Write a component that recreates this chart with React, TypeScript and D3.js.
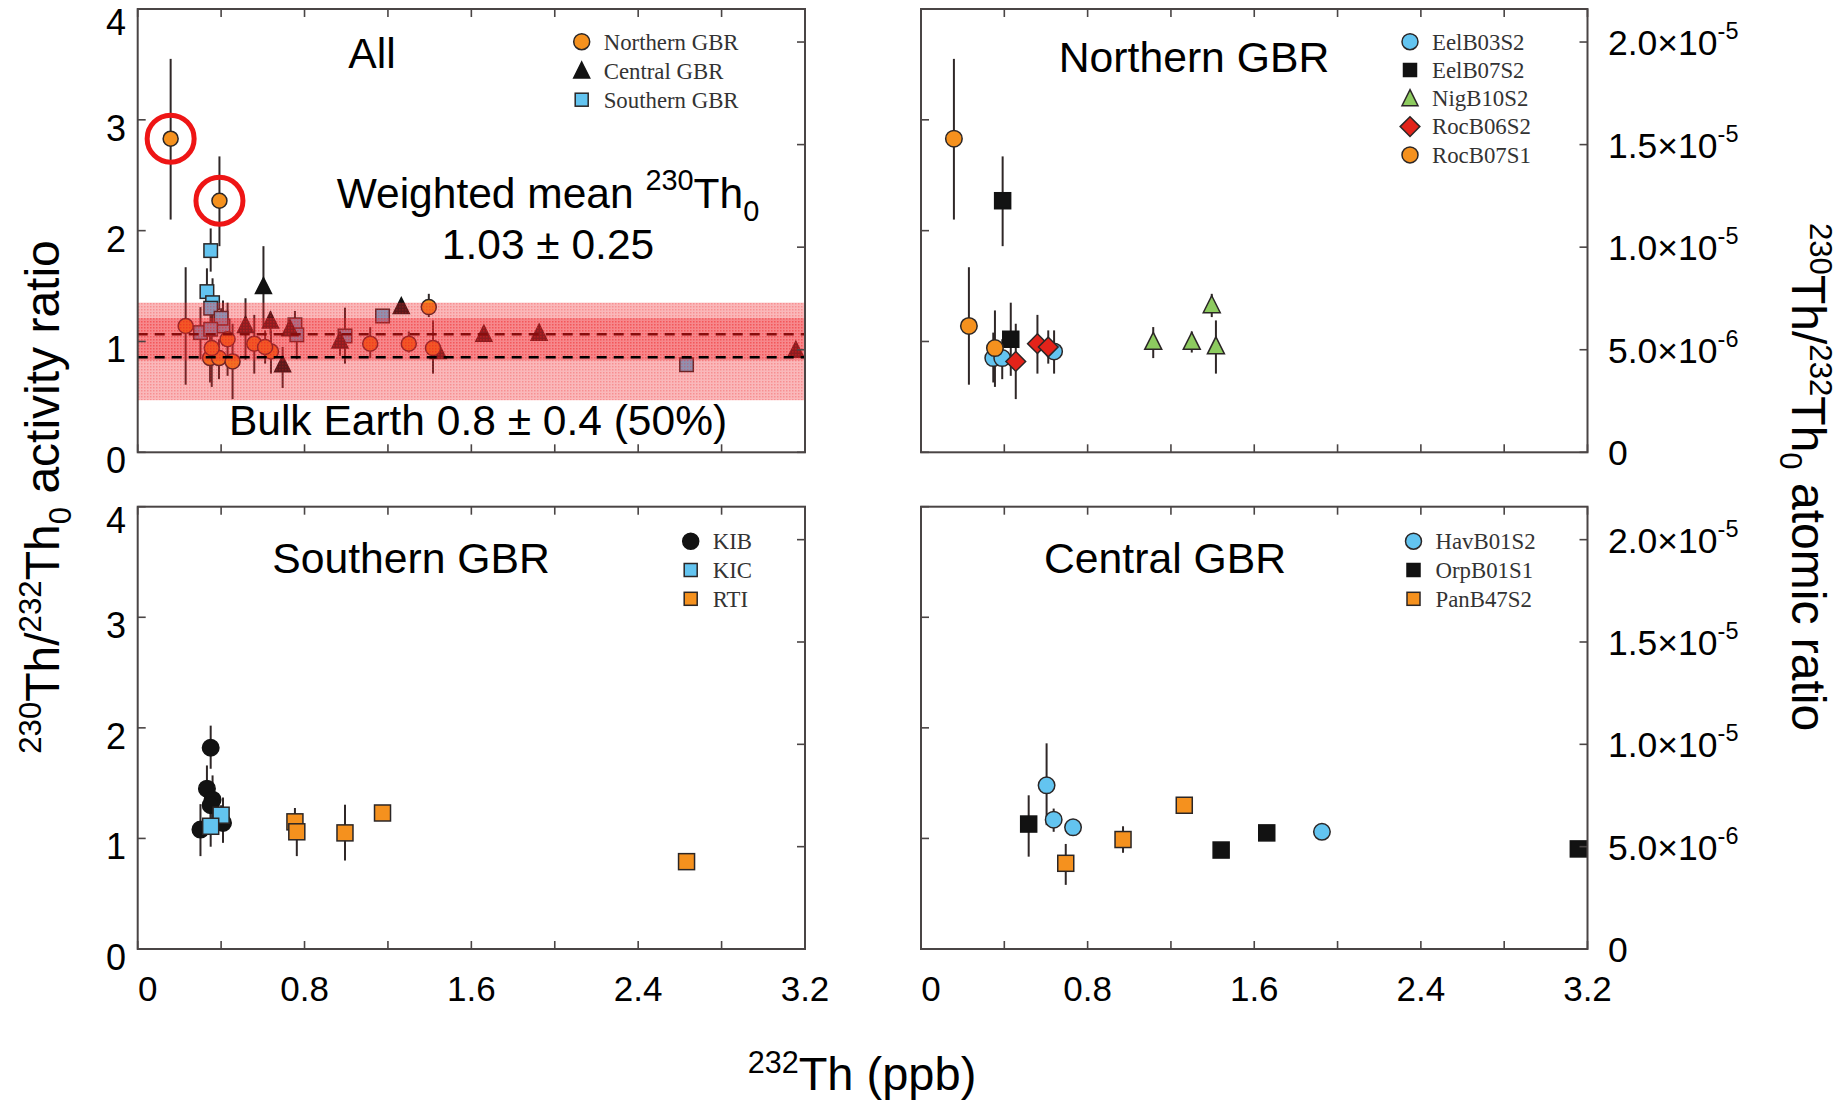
import React from 'react';
import * as d3 from 'd3';

// ---------------- data ----------------
type Pt = { x: number; y: number; lo?: number; hi?: number };

const X_TICK_VALUES = [0, 0.4, 0.8, 1.2, 1.6, 2.0, 2.4, 2.8, 3.2];
const X_TICK_LABELS = [0, 0.8, 1.6, 2.4, 3.2];
const Y_TICK_VALUES = [0, 1, 2, 3, 4];
const ATOMIC_TICK_VALUES = [0, 5e-6, 1e-5, 1.5e-5, 2e-5];
const ATOMIC_MANTISSA = ['0', '5.0×10', '1.0×10', '1.5×10', '2.0×10'];
const ATOMIC_EXPONENT = ['', '-6', '-5', '-5', '-5'];
const LAMBDA_232 = 4.9475e-11;
const LAMBDA_230 = 9.1577e-6;

// Northern GBR
const eelB03S2: Pt[] = [
  { x: 0.347, y: 0.85, lo: 0.63, hi: 1.08 },
  { x: 0.39, y: 0.85, lo: 0.66, hi: 1.02 },
  { x: 0.639, y: 0.91, lo: 0.71, hi: 1.1 },
];
const eelB07S2: Pt[] = [
  { x: 0.392, y: 2.27, lo: 1.86, hi: 2.67 },
  { x: 0.431, y: 1.02, lo: 0.69, hi: 1.35 },
];
const nigB10S2: Pt[] = [
  { x: 1.115, y: 0.98, lo: 0.85, hi: 1.13 },
  { x: 1.3, y: 0.98, lo: 0.9, hi: 1.09 },
  { x: 1.396, y: 1.31, lo: 1.22, hi: 1.43 },
  { x: 1.416, y: 0.94, lo: 0.71, hi: 1.19 },
];
const rocB06S2: Pt[] = [
  { x: 0.455, y: 0.82, lo: 0.48, hi: 1.16 },
  { x: 0.559, y: 0.98, lo: 0.71, hi: 1.24 },
  { x: 0.611, y: 0.95, lo: 0.8, hi: 1.1 },
];
const rocB07S1: Pt[] = [
  { x: 0.158, y: 2.83, lo: 2.1, hi: 3.55 },
  { x: 0.23, y: 1.14, lo: 0.61, hi: 1.67 },
  { x: 0.355, y: 0.94, lo: 0.59, hi: 1.28 },
];

// Central GBR
const havB01S2: Pt[] = [
  { x: 0.603, y: 1.48, lo: 1.12, hi: 1.86 },
  { x: 0.637, y: 1.17, lo: 1.06, hi: 1.27 },
  { x: 0.73, y: 1.1, lo: 1.04, hi: 1.15 },
  { x: 1.925, y: 1.06, lo: 1.04, hi: 1.08 },
];
const orpB01S1: Pt[] = [
  { x: 0.517, y: 1.13, lo: 0.835, hi: 1.39 },
  { x: 1.441, y: 0.895, lo: 0.86, hi: 0.93 },
  { x: 1.66, y: 1.05, lo: 1.03, hi: 1.07 },
  { x: 3.156, y: 0.905, lo: 0.87, hi: 0.94 },
];
const panB47S2: Pt[] = [
  { x: 0.695, y: 0.775, lo: 0.58, hi: 0.95 },
  { x: 0.97, y: 0.99, lo: 0.87, hi: 1.11 },
  { x: 1.264, y: 1.3 },
];

// Southern GBR
const kib: Pt[] = [
  { x: 0.35, y: 1.82, lo: 1.63, hi: 2.02 },
  { x: 0.332, y: 1.45, lo: 1.25, hi: 1.66 },
  { x: 0.359, y: 1.35, lo: 1.15, hi: 1.57 },
  { x: 0.35, y: 1.3, lo: 1.1, hi: 1.45 },
  { x: 0.301, y: 1.08, lo: 0.84, hi: 1.31 },
  { x: 0.409, y: 1.14, lo: 0.96, hi: 1.37 },
];
const kic: Pt[] = [
  { x: 0.4, y: 1.21, lo: 1.1, hi: 1.3 },
  { x: 0.35, y: 1.11, lo: 0.925, hi: 1.25 },
];
const rti: Pt[] = [
  { x: 0.754, y: 1.15, lo: 1.05, hi: 1.275 },
  { x: 0.763, y: 1.06, lo: 0.84, hi: 1.2 },
  { x: 0.994, y: 1.05, lo: 0.8, hi: 1.305 },
  { x: 1.174, y: 1.23 },
  { x: 2.632, y: 0.79 },
];

// reference bands / lines in the "All" panel
const BAND_OUTER = [0.47, 1.35];
const BAND_INNER = [0.83, 1.21];
const MEAN_LINE = 1.065;
const BULK_LINE = 0.857;
const HIGHLIGHTS = [rocB07S1[0], eelB07S2[0]];

// ---------------- styles ----------------
const ORANGE = '#F5911E';
const BLUE = '#63C4F0';
const BLACK = '#121212';
const GREEN = '#8DCB5F';
const RED = '#E3231A';
const FRAME = '#4a4545';
const SANS = '"Liberation Sans", Arial, sans-serif';
const SERIF = '"Liberation Serif", "Times New Roman", serif';

type Shape = 'circle' | 'square' | 'triangle' | 'diamond';
type Series = { name: string; shape: Shape; fill: string; data: Pt[] };

const NORTHERN: Series[] = [
  { name: 'EelB03S2', shape: 'circle', fill: BLUE, data: eelB03S2 },
  { name: 'EelB07S2', shape: 'square', fill: BLACK, data: eelB07S2 },
  { name: 'NigB10S2', shape: 'triangle', fill: GREEN, data: nigB10S2 },
  { name: 'RocB06S2', shape: 'diamond', fill: RED, data: rocB06S2 },
  { name: 'RocB07S1', shape: 'circle', fill: ORANGE, data: rocB07S1 },
];
const CENTRAL: Series[] = [
  { name: 'HavB01S2', shape: 'circle', fill: BLUE, data: havB01S2 },
  { name: 'OrpB01S1', shape: 'square', fill: BLACK, data: orpB01S1 },
  { name: 'PanB47S2', shape: 'square', fill: ORANGE, data: panB47S2 },
];
const SOUTHERN: Series[] = [
  { name: 'KIB', shape: 'circle', fill: BLACK, data: kib },
  { name: 'KIC', shape: 'square', fill: BLUE, data: kic },
  { name: 'RTI', shape: 'square', fill: ORANGE, data: rti },
];
const ALL: Series[] = [
  { name: 'Southern GBR', shape: 'square', fill: BLUE, data: SOUTHERN.flatMap((s) => s.data) },
  { name: 'Central GBR', shape: 'triangle', fill: BLACK, data: CENTRAL.flatMap((s) => s.data) },
  { name: 'Northern GBR', shape: 'circle', fill: ORANGE, data: NORTHERN.flatMap((s) => s.data) },
];
const ALL_LEGEND: Series[] = [ALL[2], ALL[1], ALL[0]];

type Box = { x0: number; x1: number; y0: number; y1: number };
const TL: Box = { x0: 137.7, x1: 805, y0: 9, y1: 452.3 };
const TR: Box = { x0: 921, x1: 1587.5, y0: 9, y1: 452.3 };
const BL: Box = { x0: 137.7, x1: 805, y0: 506.7, y1: 949 };
const BR: Box = { x0: 921, x1: 1587.5, y0: 506.7, y1: 949 };

type Part = { t: string; sup?: boolean; sub?: boolean };
function rich(parts: Part[], fs: number, scale = 0.66, rise = 0.4, drop = 0.24) {
  let cur = 0;
  return parts.map((p, i) => {
    const target = p.sup ? -rise * fs : p.sub ? drop * fs : 0;
    const dy = target - cur;
    cur = target;
    return (
      <tspan key={i} dy={dy} fontSize={p.sup || p.sub ? fs * scale : fs}>
        {p.t}
      </tspan>
    );
  });
}

function Marker({ shape, fill, cx, cy, s }: { shape: Shape; fill: string; cx: number; cy: number; s: number }) {
  const stroke = fill === BLACK ? BLACK : '#2b2626';
  const common = { fill, stroke, strokeWidth: 1.5 };
  if (shape === 'circle') return <circle cx={cx} cy={cy} r={s / 2} {...common} />;
  if (shape === 'square') return <rect x={cx - s / 2} y={cy - s / 2} width={s} height={s} {...common} />;
  if (shape === 'triangle') {
    const w = s, h = s;
    const p = `M${cx},${cy - (2 * h) / 3}L${cx + w / 2},${cy + h / 3}L${cx - w / 2},${cy + h / 3}Z`;
    return <path d={p} {...common} />;
  }
  const r = s * 0.58;
  return <path d={`M${cx},${cy - r}L${cx + r},${cy}L${cx},${cy + r}L${cx - r},${cy}Z`} {...common} />;
}

function sizeFor(shape: Shape, small: boolean) {
  if (shape === 'circle') return small ? 15 : 16.5;
  if (shape === 'square') return small ? 13.5 : 16;
  if (shape === 'triangle') return small ? 16 : 17;
  return 17;
}

function Panel({
  box, series, legend, legendDx, legendDy, legendStep, title, titleX, titleBase, small, extra,
}: {
  box: Box; series: Series[]; legend: Series[]; legendDx: number; legendDy: number; legendStep: number;
  title: string; titleX: number; titleBase: number; small?: boolean; extra?: (x: any, y: any) => React.ReactNode;
}) {
  const x = d3.scaleLinear().domain([0, 3.2]).range([box.x0, box.x1]);
  const y = d3.scaleLinear().domain([0, 4]).range([box.y1, box.y0]);
  const ya = d3.scaleLinear().domain([0, (4 * LAMBDA_232) / LAMBDA_230]).range([box.y1, box.y0]);
  const tl = 8;
  return (
    <g>
      {series.map((s) =>
        s.data.map((d, i) =>
          d.lo !== undefined && d.hi !== undefined ? (
            <line key={s.name + 'e' + i} x1={x(d.x)} x2={x(d.x)} y1={y(d.lo)} y2={y(d.hi)} stroke="#2f2727" strokeWidth={2} />
          ) : null,
        ),
      )}
      {series.map((s) =>
        s.data.map((d, i) => (
          <Marker key={s.name + 'm' + i} shape={s.shape} fill={s.fill} cx={x(d.x)} cy={y(d.y)} s={sizeFor(s.shape, !!small)} />
        )),
      )}
      {extra ? extra(x, y) : null}
      {/* ticks */}
      {X_TICK_VALUES.map((v) => (
        <g key={'xt' + v}>
          <line x1={x(v)} x2={x(v)} y1={box.y1} y2={box.y1 - tl} stroke={FRAME} strokeWidth={1.6} />
          <line x1={x(v)} x2={x(v)} y1={box.y0} y2={box.y0 + tl} stroke={FRAME} strokeWidth={1.6} />
        </g>
      ))}
      {Y_TICK_VALUES.map((v) => (
        <line key={'yt' + v} x1={box.x0} x2={box.x0 + tl} y1={y(v)} y2={y(v)} stroke={FRAME} strokeWidth={1.6} />
      ))}
      {ATOMIC_TICK_VALUES.map((v) => (
        <line key={'at' + v} x1={box.x1} x2={box.x1 - tl} y1={ya(v)} y2={ya(v)} stroke={FRAME} strokeWidth={1.6} />
      ))}
      <rect x={box.x0} y={box.y0} width={box.x1 - box.x0} height={box.y1 - box.y0} fill="none" stroke={FRAME} strokeWidth={2} />
      {/* legend */}
      {legend.map((s, i) => {
        const cy = box.y0 + legendDy + i * legendStep;
        const mx = box.x0 + legendDx;
        return (
          <g key={'lg' + s.name}>
            <Marker shape={s.shape} fill={s.fill} cx={mx} cy={cy + (s.shape === 'triangle' ? 2 : 0)} s={s.shape === 'square' ? 13 : s.shape === 'diamond' ? 17 : 16} />
            <text x={mx + 22} y={cy + 7.8} fontFamily={SERIF} fontSize={22.8} fill="#333">
              {s.name}
            </text>
          </g>
        );
      })}
      <text x={titleX} y={titleBase} textAnchor="middle" fontFamily={SANS} fontSize={42.7} fill="#000">
        {title}
      </text>
    </g>
  );
}

export default function App() {
  const W = 1845, H = 1103;
  const xl = d3.scaleLinear().domain([0, 3.2]).range([BL.x0, BL.x1]);
  const xr = d3.scaleLinear().domain([0, 3.2]).range([BR.x0, BR.x1]);
  const yTop = d3.scaleLinear().domain([0, 4]).range([TL.y1, TL.y0]);
  const yBot = d3.scaleLinear().domain([0, 4]).range([BL.y1, BL.y0]);
  const yaTop = d3.scaleLinear().domain([0, (4 * LAMBDA_232) / LAMBDA_230]).range([TR.y1, TR.y0]);
  const yaBot = d3.scaleLinear().domain([0, (4 * LAMBDA_232) / LAMBDA_230]).range([BR.y1, BR.y0]);

  const bandExtra = (x: any, y: any) => (
    <g>
      <rect x={TL.x0} width={TL.x1 - TL.x0} y={y(BAND_OUTER[1])} height={y(BAND_OUTER[0]) - y(BAND_OUTER[1])} fill="url(#dots)" />
      <rect x={TL.x0} width={TL.x1 - TL.x0} y={y(BAND_INNER[1])} height={y(BAND_INNER[0]) - y(BAND_INNER[1])} fill="url(#dots)" />
      <line x1={TL.x0} x2={TL.x1} y1={y(MEAN_LINE)} y2={y(MEAN_LINE)} stroke="#8a0c0c" strokeWidth={2.6} strokeDasharray="10 7" />
      <line x1={TL.x0} x2={TL.x1} y1={y(BULK_LINE)} y2={y(BULK_LINE)} stroke="#000" strokeWidth={2.6} strokeDasharray="10 7" />
      {HIGHLIGHTS.map((d, i) => (
        <circle key={'hl' + i} cx={x(d.x)} cy={y(d.y)} r={23.5} fill="none" stroke="#EE1515" strokeWidth={5} />
      ))}
    </g>
  );

  return (
    <svg width={W} height={H} style={{ position: 'absolute', left: 0, top: 0, background: '#fff' }}>
      <defs>
        <pattern id="dots" width="3" height="3" patternUnits="userSpaceOnUse">
          <rect width="3" height="3" fill="rgb(240,40,45)" fillOpacity={0.33} />
          <rect width="1.5" height="1.5" fill="rgb(240,20,25)" fillOpacity={0.25} />
        </pattern>
      </defs>
      <rect width={W} height={H} fill="#fff" />
      <Panel box={TL} series={ALL} legend={ALL_LEGEND} legendDx={444} legendDy={32.7} legendStep={29}
        title="All" titleX={372} titleBase={68} small extra={bandExtra} />
      <Panel box={TR} series={NORTHERN} legend={NORTHERN} legendDx={489} legendDy={32.7} legendStep={28.3}
        title="Northern GBR" titleX={1194} titleBase={72} />
      <Panel box={BL} series={SOUTHERN} legend={SOUTHERN} legendDx={553} legendDy={34.5} legendStep={28.8}
        title="Southern GBR" titleX={411} titleBase={573} />
      <Panel box={BR} series={CENTRAL} legend={CENTRAL} legendDx={492.5} legendDy={34.5} legendStep={28.8}
        title="Central GBR" titleX={1165} titleBase={573} />

      {/* annotations in All panel */}
      <text x={548} y={208} textAnchor="middle" fontFamily={SANS} fontSize={42.5}>
        {rich([{ t: 'Weighted mean ' }, { t: '230', sup: true }, { t: 'Th' }, { t: '0', sub: true }], 42.5, 0.68, 0.42, 0.3)}
      </text>
      <text x={548} y={259} textAnchor="middle" fontFamily={SANS} fontSize={42.5}>1.03 ± 0.25</text>
      <text x={478} y={435} textAnchor="middle" fontFamily={SANS} fontSize={42.5}>Bulk Earth 0.8 ± 0.4 (50%)</text>

      {/* left tick labels */}
      {[yTop, yBot].map((ys, k) =>
        Y_TICK_VALUES.map((v) => (
          <text key={'yl' + k + v} x={126} y={ys(v) + (v === 4 ? 26 : 21)} textAnchor="end" fontFamily={SANS} fontSize={36}>
            {v}
          </text>
        )),
      )}
      {/* bottom tick labels */}
      {[xl, xr].map((xs, k) =>
        X_TICK_LABELS.map((v) => (
          <text key={'xl' + k + v} x={xs(v) + (v === 0 ? 10 : 0)} y={1001} textAnchor="middle" fontFamily={SANS} fontSize={35}>
            {v}
          </text>
        )),
      )}
      {/* right atomic tick labels */}
      {[yaTop, yaBot].map((ys, k) =>
        ATOMIC_TICK_VALUES.map((v, i) => (
          <text key={'al' + k + i} x={1608} y={ys(v) + 13} fontFamily={SANS} fontSize={35.5}>
            {ATOMIC_EXPONENT[i]
              ? rich([{ t: ATOMIC_MANTISSA[i] }, { t: ATOMIC_EXPONENT[i], sup: true }], 35.5, 0.66, 0.45)
              : ATOMIC_MANTISSA[i]}
          </text>
        )),
      )}

      {/* axis titles */}
      <text transform="translate(59,497) rotate(-90)" textAnchor="middle" fontFamily={SANS} fontSize={48}>
        {rich([{ t: '230', sup: true }, { t: 'Th/' }, { t: '232', sup: true }, { t: 'Th' }, { t: '0', sub: true }, { t: ' activity ratio' }], 48, 0.65, 0.37, 0.25)}
      </text>
      <text transform="translate(1792,477) rotate(90)" textAnchor="middle" fontFamily={SANS} fontSize={48}>
        {rich([{ t: '230', sup: true }, { t: 'Th/' }, { t: '232', sup: true }, { t: 'Th' }, { t: '0', sub: true }, { t: ' atomic ratio' }], 48, 0.65, 0.37, 0.25)}
      </text>
      <text x={862} y={1090} textAnchor="middle" fontFamily={SANS} fontSize={47}>
        {rich([{ t: '232', sup: true }, { t: 'Th (ppb)' }], 47, 0.65, 0.37)}
      </text>
    </svg>
  );
}
